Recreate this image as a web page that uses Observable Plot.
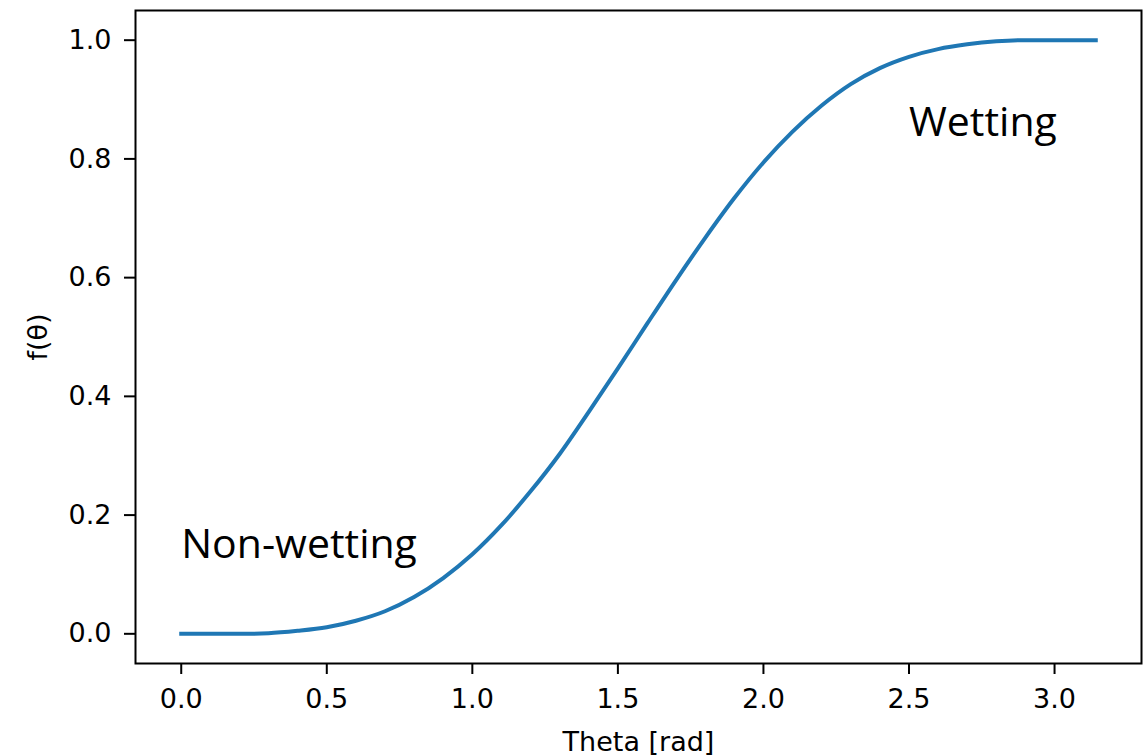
<!DOCTYPE html>
<html><head><meta charset="utf-8">
<script src="https://cdn.jsdelivr.net/npm/d3@7"></script>
<script src="https://cdn.jsdelivr.net/npm/@observablehq/plot@0.6"></script>
<style>html,body{margin:0;padding:0;background:#fff;overflow:hidden;}</style>
</head><body><div id="chart"></div>
<script>
// Values
const theta = [0.0, 0.1, 0.2, 0.3, 0.4, 0.5, 0.6, 0.7, 0.8, 0.9, 1.0, 1.1, 1.2, 1.3, 1.4, 1.5, 1.6, 1.7, 1.8, 1.9, 2.0, 2.1, 2.2, 2.3, 2.4, 2.5, 2.6, 2.7, 2.8, 2.9, 3.0, 3.1416];
const fTheta = [0.000, 0.000, 0.000, 0.001, 0.005, 0.011, 0.022, 0.038, 0.062, 0.094, 0.134, 0.183, 0.240, 0.303, 0.374, 0.447, 0.522, 0.596, 0.667, 0.734, 0.794, 0.846, 0.890, 0.926, 0.953, 0.972, 0.985, 0.993, 0.998, 1.000, 1.000, 1.000];
const xTicks = [0.0, 0.5, 1.0, 1.5, 2.0, 2.5, 3.0];
const yTicks = [0.0, 0.2, 0.4, 0.6, 0.8, 1.0];
const annotations = ["Non-wetting", "Wetting"];
const annotationTheta = [0.0, 2.5];
const annotationF = [0.127, 0.839];

const curveData = theta.map((t, i) => ({theta: t, f: fTheta[i]}));
const notes = annotations.map((s, i) => ({text: s, theta: annotationTheta[i], f: annotationF[i]}));

const chart = Plot.plot({
  width: 1147,
  height: 756,
  marginLeft: 135,
  marginRight: 6,
  marginTop: 10,
  marginBottom: 93,
  style: {fontFamily: "'DejaVu Sans'", fontSize: "27px", background: "white", color: "black"},
  x: {domain: [-0.1571, 3.2987]},
  y: {domain: [-0.05, 1.05]},
  marks: [
    Plot.line(curveData, {x: "theta", y: "f", stroke: "#1f77b4", strokeWidth: 4, strokeLinecap: "square", curve: "monotone-x"}),
    Plot.frame({stroke: "black", strokeWidth: 2}),
    Plot.axisX({ticks: xTicks, tickFormat: d => d.toFixed(1), tickSize: 11, tickPadding: 14, strokeWidth: 2, fontSize: 27,
      label: "Theta [rad]", labelAnchor: "center", labelOffset: 87, labelArrow: "none"}),
    Plot.axisY({ticks: yTicks, tickFormat: d => d.toFixed(1), tickSize: 11, tickPadding: 13, strokeWidth: 2, fontSize: 27,
      label: "f(θ)", labelAnchor: "center", labelOffset: 108, labelArrow: "none"}),
    Plot.text(notes, {x: "theta", y: "f", text: "text", textAnchor: "start", lineAnchor: "bottom",
      fontFamily: "'Open Sans'", fontSize: 41, fill: "black"})
  ]
});
document.getElementById("chart").appendChild(chart);
</script>
</body></html>
